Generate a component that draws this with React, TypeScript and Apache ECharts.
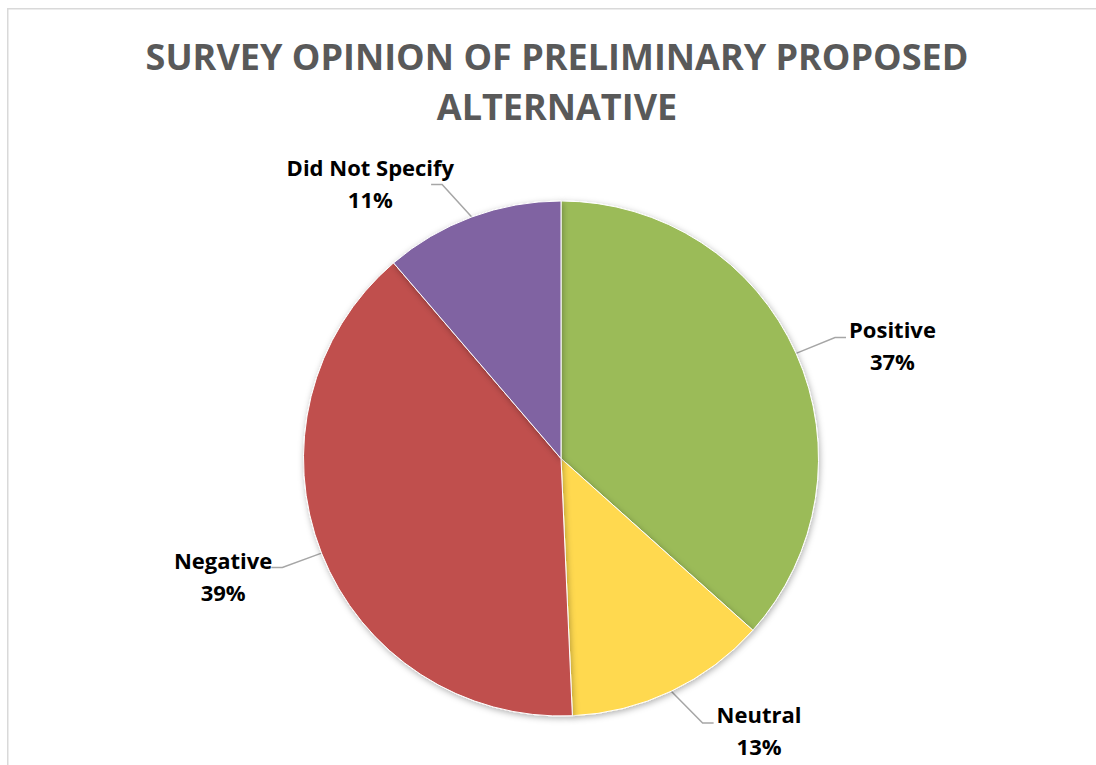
import React, { useEffect, useRef } from "react";
import * as echarts from "echarts";

const titleLines = ["SURVEY OPINION OF PRELIMINARY PROPOSED", "ALTERNATIVE"];
const categories = ["Positive", "Neutral", "Negative", "Did Not Specify"];
// response counts; labels show rounded shares
const responseCounts = [26, 9, 28, 8];
const sliceColors = ["#9BBB59", "#FFD94F", "#C0504D", "#8064A2"];

const PIE_CX = 554;
const PIE_CY = 450.5;
const PIE_R = 257.5;

function midAngle(index: number): number {
  const total = responseCounts.reduce((a, b) => a + b, 0);
  let before = 0;
  for (let i = 0; i < index; i++) before += responseCounts[i];
  return ((before + responseCounts[index] / 2) / total) * Math.PI * 2;
}

export default function App() {
  const ref = useRef<HTMLDivElement>(null);
  useEffect(() => {
    if (!ref.current) return;
    const chart = echarts.init(ref.current, undefined, { renderer: "svg" });
    const data = categories.map((name, i) => ({
      name,
      value: responseCounts[i],
      itemStyle: { color: sliceColors[i] },
    }));
    chart.setOption({
      animation: false,
      backgroundColor: "#ffffff",
      title: {
        text: titleLines.join("\n"),
        left: "center",
        top: 18,
        textStyle: {
          fontFamily: "Open Sans",
          fontWeight: "bold",
          fontSize: 36,
          lineHeight: 50,
          color: "#595959",
        },
      },
      graphic: [
        {
          type: "rect",
          shape: { x: 0.75, y: 0.75, width: 1300, height: 1300 },
          style: { fill: "none", stroke: "#d9d9d9", lineWidth: 1.5 },
          silent: true,
        },
      ],
      series: [
        {
          type: "pie",
          center: [PIE_CX, PIE_CY],
          radius: [0, PIE_R],
          startAngle: 90,
          clockwise: true,
          avoidLabelOverlap: false,
          percentPrecision: 0,
          data,
          itemStyle: {
            borderColor: "#ffffff",
            borderWidth: 1,
            shadowBlur: 6,
            shadowOffsetX: 1,
            shadowOffsetY: 2,
            shadowColor: "rgba(0,0,0,0.3)",
          },
          label: {
            show: true,
            position: "outside",
            formatter: (p: any) => `${p.name}\n${p.percent}%`,
            fontFamily: "Open Sans",
            fontWeight: "bold",
            fontSize: 22,
            lineHeight: 32,
            color: "#000000",
          },
          labelLine: {
            show: true,
            length: 40,
            length2: 11,
            smooth: false,
            lineStyle: { color: "#A6A6A6", width: 1.5 },
          },
          labelLayout: (params: any) => {
            const th = midAngle(params.dataIndex);
            const s = Math.sin(th);
            const c = Math.cos(th);
            const dir = s >= 0 ? 1 : -1;
            const edge = [PIE_CX + PIE_R * s, PIE_CY - PIE_R * c];
            const kr = PIE_R + 40 - 6 * c * c;
            const knee = [PIE_CX + kr * s + dir * 20 * c * c, PIE_CY - kr * c];
            const end = [knee[0] + dir * 11, knee[1]];
            const w = params.labelRect.width;
            const isTop = c > 0.8;
            const cxText = isTop
              ? end[0] + dir * (w / 2 - 23)
              : end[0] + dir * (3 + w / 2) + (dir < 0 ? 4 : 0);
            return {
              x: cxText,
              y: end[1] + (isTop ? -1 : dir < 0 ? 9 : 7),
              align: "center",
              verticalAlign: "middle",
              labelLinePoints: [edge, knee, end],
            };
          },
          emphasis: { disabled: true },
        },
      ],
    });
    return () => chart.dispose();
  }, []);
  return (
    <div style={{ position: "fixed", left: 0, top: 0, width: 1096, height: 765, overflow: "hidden", background: "#fff" }}>
      <div ref={ref} style={{ position: "absolute", left: 7, top: 8, width: 1100, height: 765 }} />
    </div>
  );
}
